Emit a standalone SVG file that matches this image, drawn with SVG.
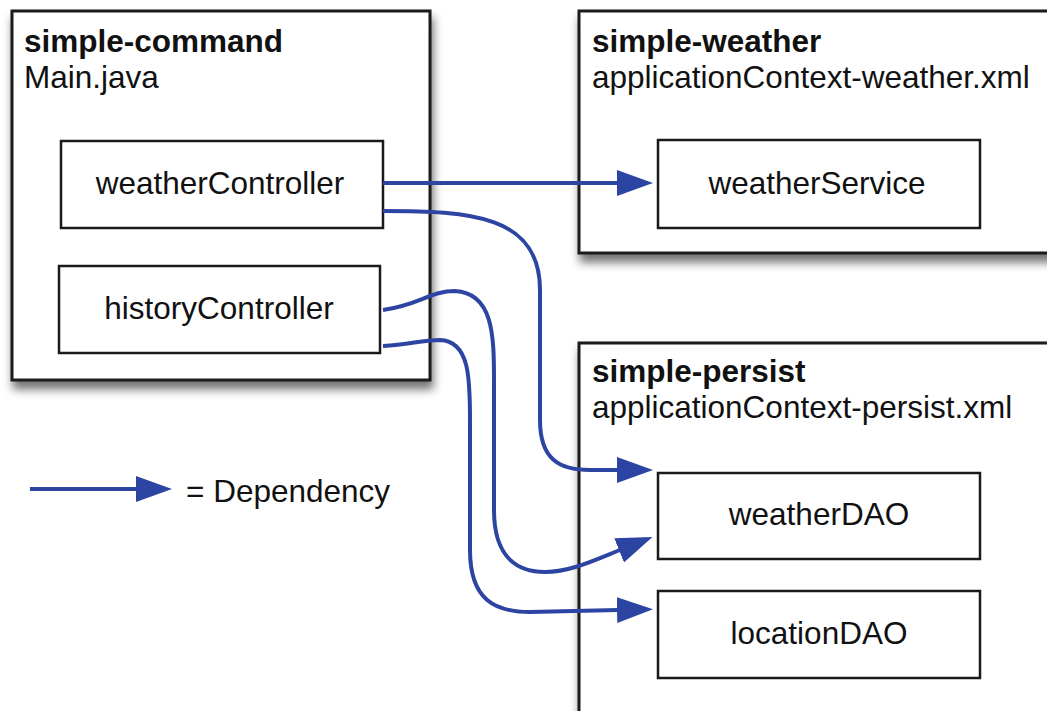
<svg xmlns="http://www.w3.org/2000/svg" width="1047" height="711" viewBox="0 0 1047 711">
<style>
  .outer { fill: #ffffff; stroke: #1a1a1a; stroke-width: 3; filter: url(#shadow); }
  .inner { fill: #ffffff; stroke: #1a1a1a; stroke-width: 2.5; }
  .title { font-family: "Liberation Sans", Arial, sans-serif; font-size: 31.5px; font-weight: bold; fill: #111; }
  .sub { font-family: "Liberation Sans", Arial, sans-serif; font-size: 31.5px; fill: #111; }
  .label { font-family: "Liberation Sans", Arial, sans-serif; font-size: 31.5px; fill: #111; text-anchor: middle; }
  .dep { fill: none; stroke: #2d45a2; stroke-width: 4; marker-end: url(#head); }
</style>
<defs>
  <filter id="shadow" x="-10%" y="-10%" width="130%" height="130%">
    <feDropShadow dx="2" dy="8" stdDeviation="5" flood-color="#000" flood-opacity="0.55"/>
  </filter>
  <marker id="head" markerUnits="userSpaceOnUse" markerWidth="38" markerHeight="28" refX="1" refY="13" orient="auto">
    <path d="M0,0 L36,13 L0,26 Z" fill="#2d45a2"/>
  </marker>
</defs>
<rect width="1047" height="711" fill="#ffffff"/>

<g id="simple-command">
  <rect class="outer" x="12" y="11" width="418" height="369"/>
  <text class="title" x="24" y="52">simple-command</text>
  <text class="sub" x="24" y="88">Main.java</text>
</g>
<g id="weatherController">
  <rect class="inner" x="61" y="141" width="322" height="87"/>
  <text class="label" x="220" y="194">weatherController</text>
</g>
<g id="historyController">
  <rect class="inner" x="59" y="266" width="321" height="87"/>
  <text class="label" x="219" y="319">historyController</text>
</g>

<g id="simple-weather">
  <rect class="outer" x="579" y="11" width="490" height="242"/>
  <text class="title" x="592" y="52">simple-weather</text>
  <text class="sub" x="592" y="88">applicationContext-weather.xml</text>
</g>
<g id="weatherService">
  <rect class="inner" x="658" y="140" width="322" height="88"/>
  <text class="label" x="817" y="194">weatherService</text>
</g>

<g id="simple-persist">
  <rect class="outer" x="579" y="343" width="490" height="400"/>
  <text class="title" x="592" y="382">simple-persist</text>
  <text class="sub" x="592" y="418">applicationContext-persist.xml</text>
</g>
<g id="weatherDAO">
  <rect class="inner" x="658" y="473" width="322" height="86"/>
  <text class="label" x="819" y="525">weatherDAO</text>
</g>
<g id="locationDAO">
  <rect class="inner" x="658" y="591" width="322" height="87"/>
  <text class="label" x="819" y="644">locationDAO</text>
</g>

<g id="connectors">
  <path class="dep" d="M383,183 L618,183"/>
  <path class="dep" d="M383,211 C470,211 540,215 540,290 L540,420 C540,460 560,470 590,470 L618,470"/>
  <path class="dep" d="M383,310 C420,305 430,291 455,291 C493,293 494,335 494,380 L494,510 C494,560 520,572 545,572 C570,572 595,560 620,550"/>
  <path class="dep" d="M383,346 C410,345 420,340 440,340 C470,341 470,380 470,420 L470,550 C470,600 495,612 530,612 L618,610"/>
</g>

<g id="legend">
  <path class="dep" d="M30,489 L137,489"/>
  <text class="sub" x="186" y="502">= Dependency</text>
</g>
</svg>
